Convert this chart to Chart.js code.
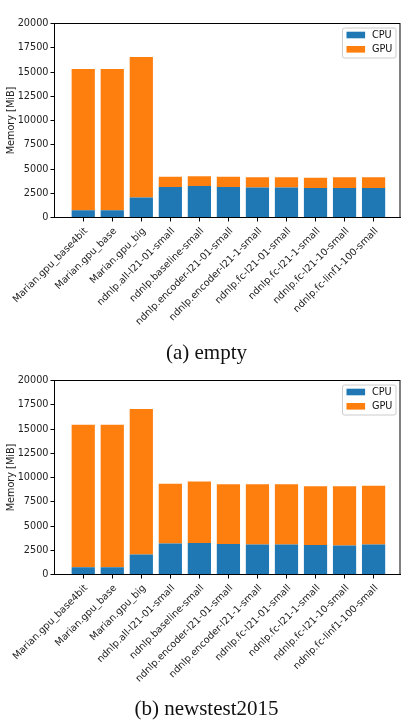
<!DOCTYPE html>
<html><head><meta charset="utf-8">
<script src="https://cdn.jsdelivr.net/npm/chart.js@4.4.0/dist/chart.umd.min.js"></script>
<style>
html,body{margin:0;padding:0;background:#fff;}
#wrap{position:relative;width:403px;height:721px;overflow:hidden;}
.cv{position:absolute;left:0;width:403px;height:345px;}
.cap{position:absolute;left:0;width:413px;text-align:center;font-family:"Liberation Serif","DejaVu Serif",serif;font-size:21px;color:#111;line-height:24px;}
</style></head>
<body><div id="wrap">
<div class="cv" style="top:0"><canvas id="c1" width="403" height="345"></canvas></div>
<div class="cap" style="top:340px">(a) empty</div>
<div class="cv" style="top:357px"><canvas id="c2" width="403" height="345"></canvas></div>
<div class="cap" style="top:696px">(b) newstest2015</div>
</div>
<script>
const categories = ['Marian.gpu_base4bit','Marian.gpu_base','Marian.gpu_big','ndnlp.all-l21-01-small','ndnlp.baseline-small','ndnlp.encoder-l21-01-small','ndnlp.encoder-l21-1-small','ndnlp.fc-l21-01-small','ndnlp.fc-l21-1-small','ndnlp.fc-l21-10-small','ndnlp.fc-linf1-100-small'];
const seriesNames = ['CPU','GPU'];
const emptyCPU = [750, 750, 2050, 3150, 3250, 3150, 3100, 3100, 3050, 3050, 3050];
const emptyGPU = [14550, 14550, 14500, 1050, 1000, 1050, 1050, 1050, 1050, 1100, 1100];
const newsCPU = [750, 750, 2050, 3200, 3250, 3150, 3100, 3100, 3050, 3000, 3100];
const newsGPU = [14700, 14700, 15000, 6150, 6350, 6150, 6200, 6200, 6050, 6100, 6050];
const yTicks = [0, 2500, 5000, 7500, 10000, 12500, 15000, 17500, 20000];
const yTitle = 'Memory [MiB]';

const FONT = '"DejaVu Sans", sans-serif';
const BLUE = '#1f77b4', ORANGE = '#ff7f0e';

const framePlugin = {
  id: 'frame',
  afterDraw(chart) {
    const {ctx, chartArea: a} = chart;
    ctx.save();
    ctx.strokeStyle = '#000';
    ctx.lineWidth = 1;
    ctx.strokeRect(a.left, a.top, a.right - a.left, a.bottom - a.top);
    const bw = 53.5, bh = 30;
    const bx = a.right - 4 - bw, by = a.top + 4.5;
    ctx.fillStyle = 'rgba(255,255,255,0.8)';
    ctx.strokeStyle = '#cccccc';
    ctx.beginPath();
    if (ctx.roundRect) ctx.roundRect(bx, by, bw, bh, 2); else ctx.rect(bx, by, bw, bh);
    ctx.fill(); ctx.stroke();
    chart.data.datasets.forEach((ds, i) => {
      const cy = by + 7 + i * 14.3;
      ctx.fillStyle = ds.backgroundColor;
      ctx.fillRect(bx + 4, cy - 3.3, 18.6, 6.6);
      ctx.fillStyle = '#111';
      ctx.font = '9.7px ' + FONT;
      ctx.textBaseline = 'middle';
      ctx.textAlign = 'left';
      ctx.fillText(ds.label, bx + 29.5, cy + 0.5);
    });
    ctx.restore();
  }
};

function makeChart(id, cpu, gpu) {
  const toPts = arr => arr.map((v, i) => ({x: i, y: v}));
  return new Chart(document.getElementById(id), {
    type: 'bar',
    data: {
      datasets: [
        {label: seriesNames[0], data: toPts(cpu), backgroundColor: BLUE, borderWidth: 0, barPercentage: 0.8, categoryPercentage: 1},
        {label: seriesNames[1], data: toPts(gpu), backgroundColor: ORANGE, borderWidth: 0, barPercentage: 0.8, categoryPercentage: 1}
      ]
    },
    options: {
      responsive: false,
      animation: false,
      events: [],
      layout: {padding: {left: 6, right: 3, top: 23.5, bottom: 0}},
      plugins: {legend: {display: false}, tooltip: {enabled: false}},
      scales: {
        x: {
          type: 'linear', stacked: true, min: -0.99, max: 10.91, offset: false,
          afterBuildTicks: s => { s.ticks = categories.map((_, i) => ({value: i})); },
          afterFit: s => { s.height = 127.5; },
          grid: {display: true, offset: false, drawOnChartArea: false, drawTicks: true, tickLength: 4, color: '#000', tickColor: '#000'},
          border: {display: true, color: '#000'},
          ticks: {
            autoSkip: false, minRotation: 45, maxRotation: 45, padding: 4, labelOffset: 3,
            font: {family: FONT, size: 9.7}, color: '#222',
            callback: v => categories[v] !== undefined ? categories[v] : ''
          }
        },
        y: {
          stacked: true, min: 0, max: 20000,
          afterBuildTicks: s => { s.ticks = yTicks.map(v => ({value: v})); },
          afterFit: s => { s.width = 48.5; },
          grid: {display: true, offset: false, drawOnChartArea: false, drawTicks: true, tickLength: 4, color: '#000', tickColor: '#000'},
          border: {display: true, color: '#000'},
          title: {display: true, text: yTitle, font: {family: FONT, size: 9.7}, color: '#222', padding: {top: 0, bottom: 2}},
          ticks: {font: {family: FONT, size: 9.7}, color: '#222', padding: 2, callback: v => String(v)}
        }
      }
    },
    plugins: [framePlugin]
  });
}
makeChart('c1', emptyCPU, emptyGPU);
makeChart('c2', newsCPU, newsGPU);
</script>
</body></html>
